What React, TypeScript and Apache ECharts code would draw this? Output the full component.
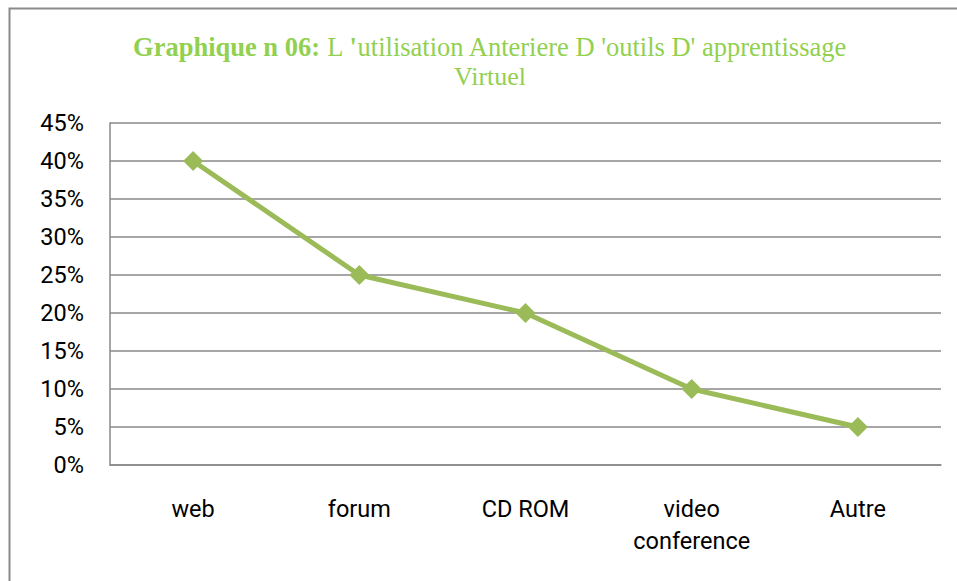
import React, { useEffect, useRef } from "react";
import * as echarts from "echarts";

const categories = ["web", "forum", "CD ROM", "video\nconference", "Autre"];
const values = [40, 25, 20, 10, 5];
const yTicks = { min: 0, max: 45, interval: 5 };
const titleBold = "Graphique n 06:";
const titleL = " L ";
const titleApos = "'";
const titleRest = "utilisation Anteriere D 'outils D' apprentissage";
const titleLine2 = "Virtuel";

export default function App() {
  const ref = useRef<HTMLDivElement>(null);
  useEffect(() => {
    if (!ref.current) return;
    const chart = echarts.init(ref.current, null, { renderer: "svg" });
    const green = "#92D050";
    chart.setOption({
      animation: false,
      backgroundColor: "#ffffff",
      grid: { left: 110, right: 16, top: 123, bottom: 116, containLabel: false },
      graphic: [
        {
          type: "rect",
          shape: { x: 9.5, y: 8.5, width: 1200, height: 1200 },
          style: { fill: "none", stroke: "#8a8a8a", lineWidth: 2 },
          silent: true,
        },
        {
          type: "text",
          x: 490,
          y: 47,
          style: {
            text:
              "{b|" + titleBold + "}{n|" + titleL + "}{b|" + titleApos + "}{n|" + titleRest + "}",
            align: "center",
            verticalAlign: "middle",
            rich: {
              b: { fontFamily: "Liberation Serif", fontSize: 26.5, fontWeight: "bold", fill: green },
              n: { fontFamily: "Liberation Serif", fontSize: 26.5, fill: green },
            },
          },
        },
        {
          type: "text",
          x: 490,
          y: 76,
          style: {
            text: titleLine2,
            align: "center",
            verticalAlign: "middle",
            fontFamily: "Liberation Serif",
            fontSize: 26,
            fill: green,
          },
        },
      ],
      xAxis: {
        type: "category",
        data: categories,
        boundaryGap: true,
        axisLine: { show: true, lineStyle: { color: "#888888", width: 1.5 } },
        axisTick: { show: false },
        axisLabel: {
          fontFamily: "Roboto",
          fontSize: 23.5,
          color: "#000000",
          margin: 28,
          lineHeight: 32,
          interval: 0,
        },
        splitLine: { show: false },
      },
      yAxis: {
        type: "value",
        min: yTicks.min,
        max: yTicks.max,
        interval: yTicks.interval,
        axisLine: { show: true, lineStyle: { color: "#888888", width: 1.5 } },
        axisTick: { show: false },
        axisLabel: {
          fontFamily: "Roboto",
          fontSize: 23.5,
          color: "#000000",
          margin: 26,
          formatter: (v: number) => v + "%",
        },
        splitLine: { show: true, lineStyle: { color: "#888888", width: 1.5 } },
      },
      series: [
        {
          type: "line",
          data: values,
          symbol: "diamond",
          symbolSize: 20,
          lineStyle: { color: "#9BBB59", width: 5 },
          itemStyle: { color: "#9BBB59" },
        },
      ],
    });
    return () => chart.dispose();
  }, []);
  return (
    <div
      ref={ref}
      style={{ position: "fixed", left: 0, top: 0, width: 957, height: 581 }}
    />
  );
}
